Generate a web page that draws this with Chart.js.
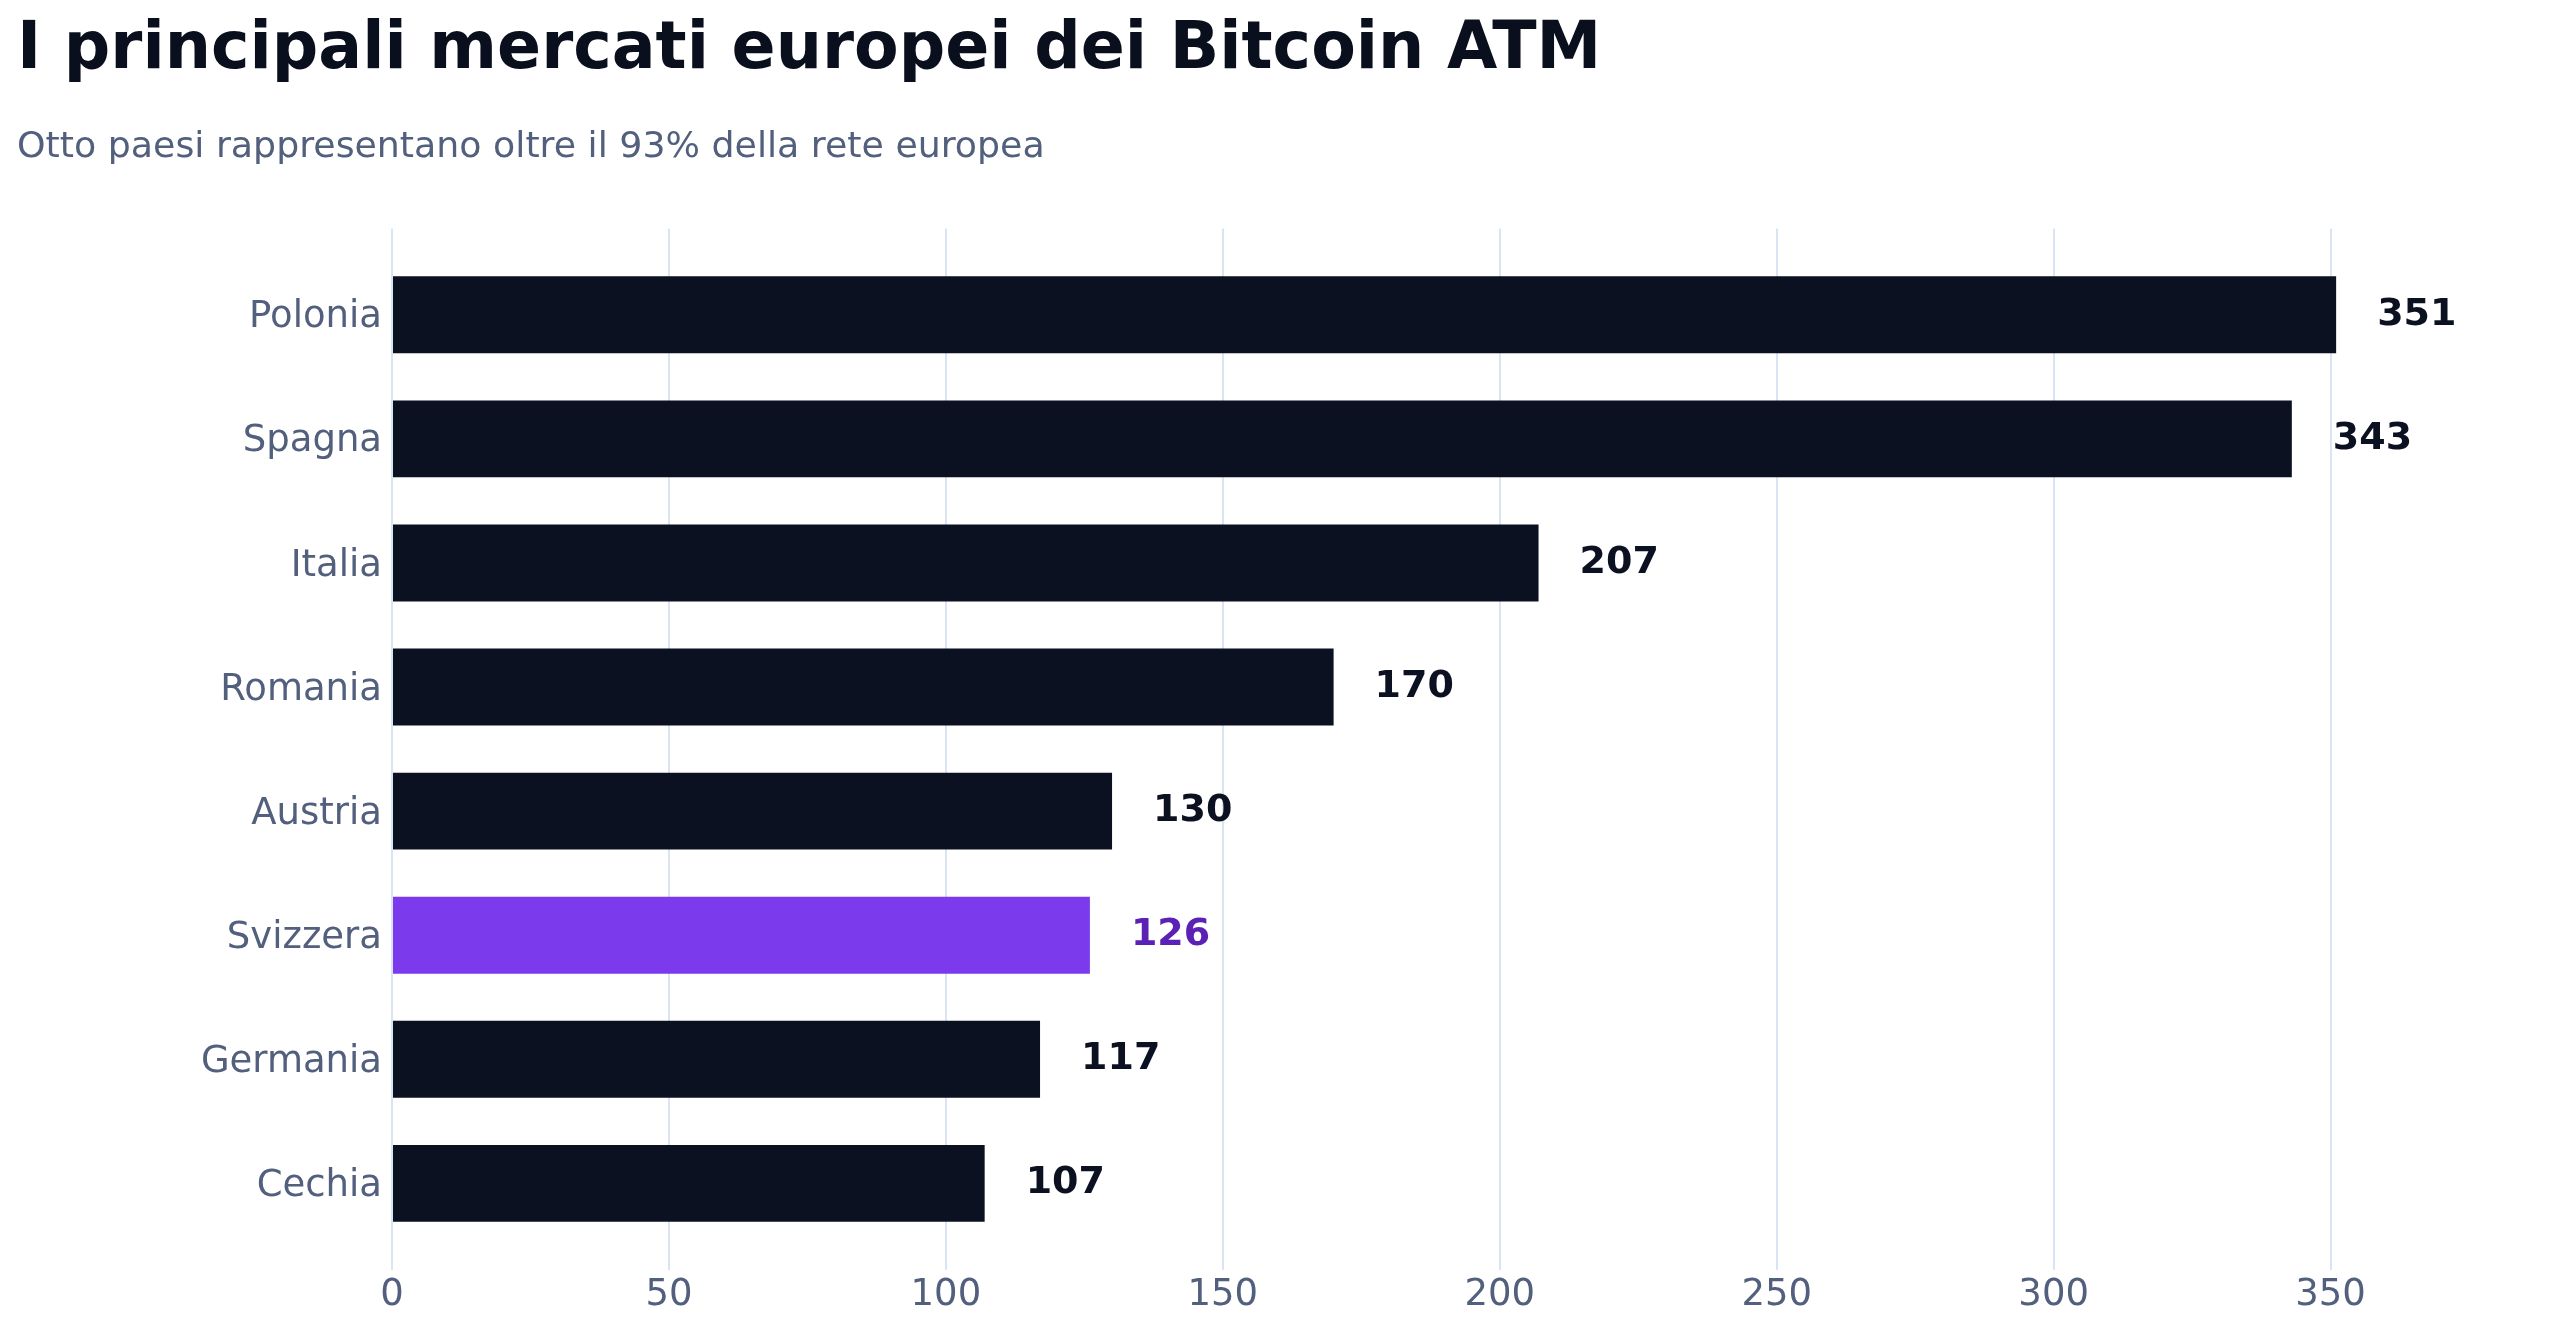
<!DOCTYPE html>
<html>
<head>
<meta charset="utf-8">
<script src="https://cdn.jsdelivr.net/npm/chart.js@4.4.1/dist/chart.umd.min.js"></script>
<style>
html,body{margin:0;padding:0;background:#ffffff;}
#wrap{width:2570px;height:1329px;}
canvas{display:block;}
</style>
</head>
<body>
<div id="wrap"><canvas id="c" width="2570" height="1329"></canvas></div>
<script>
const categories = ["Polonia","Spagna","Italia","Romania","Austria","Svizzera","Germania","Cechia"];
const atmCounts = [351, 343, 207, 170, 130, 126, 117, 107];
const highlighted = "Svizzera";
const xTicks = [0, 50, 100, 150, 200, 250, 300, 350];

const FONT = "'DejaVu Sans', sans-serif";
const DARK = "#0b1120";
const PURPLE = "#7c3aed";
const PURPLE_TEXT = "#5b21b6";
const SLATE = "#52607d";
const GRID = "#dbe4f3";

const valueLabels = {
  id: "valueLabels",
  afterDatasetsDraw(chart) {
    const ctx = chart.ctx;
    const meta = chart.getDatasetMeta(0);
    ctx.save();
    ctx.font = "bold 38px " + FONT;
    ctx.textAlign = "left";
    ctx.textBaseline = "middle";
    meta.data.forEach((bar, i) => {
      ctx.fillStyle = categories[i] === highlighted ? PURPLE_TEXT : DARK;
      ctx.fillText(String(atmCounts[i]), bar.x + 41, bar.y);
    });
    ctx.restore();
  }
};

new Chart(document.getElementById("c"), {
  type: "bar",
  data: {
    datasets: [{
      data: atmCounts.map((v, i) => ({ x: v, y: i })),
      backgroundColor: categories.map(c => c === highlighted ? PURPLE : DARK),
      borderWidth: 0,
      categoryPercentage: 1,
      barPercentage: 0.62
    }]
  },
  options: {
    indexAxis: "y",
    responsive: false,
    animation: false,
    devicePixelRatio: 1,
    layout: { padding: { left: 17, right: 40, top: 12, bottom: 7 } },
    plugins: {
      legend: { display: false },
      tooltip: { enabled: false },
      title: {
        display: true,
        text: "I principali mercati europei dei Bitcoin ATM",
        align: "start",
        color: "#0a0f1e",
        font: { family: FONT, size: 65, weight: "bold", lineHeight: 1.2 },
        padding: { top: 0, bottom: 36 }
      },
      subtitle: {
        display: true,
        text: "Otto paesi rappresentano oltre il 93% della rete europea",
        align: "start",
        color: SLATE,
        font: { family: FONT, size: 36.3, weight: "normal", lineHeight: 1.2 },
        padding: { top: 0, bottom: 59 }
      }
    },
    scales: {
      x: {
        type: "linear",
        min: 0,
        max: 386,
        offset: false,
        afterBuildTicks: (scale) => { scale.ticks = xTicks.map(v => ({ value: v })); },
        grid: { color: GRID, lineWidth: 2, drawTicks: false, offset: false },
        border: { display: false },
        ticks: {
          color: SLATE,
          padding: 4,
          font: { family: FONT, size: 37 },
          maxRotation: 0
        }
      },
      y: {
        type: "linear",
        reverse: true,
        min: -0.695,
        max: 7.695,
        offset: false,
        afterBuildTicks: (scale) => { scale.ticks = categories.map((c, i) => ({ value: i })); },
        afterFit: (scale) => { scale.width = 392 - 17; },
        grid: { display: false, drawTicks: false, offset: false },
        border: { display: false },
        ticks: {
          color: SLATE,
          padding: 10,
          labelOffset: 3,
          autoSkip: false,
          font: { family: FONT, size: 37 },
          callback: (v) => categories[v]
        }
      }
    }
  },
  plugins: [valueLabels]
});
</script>
</body>
</html>
